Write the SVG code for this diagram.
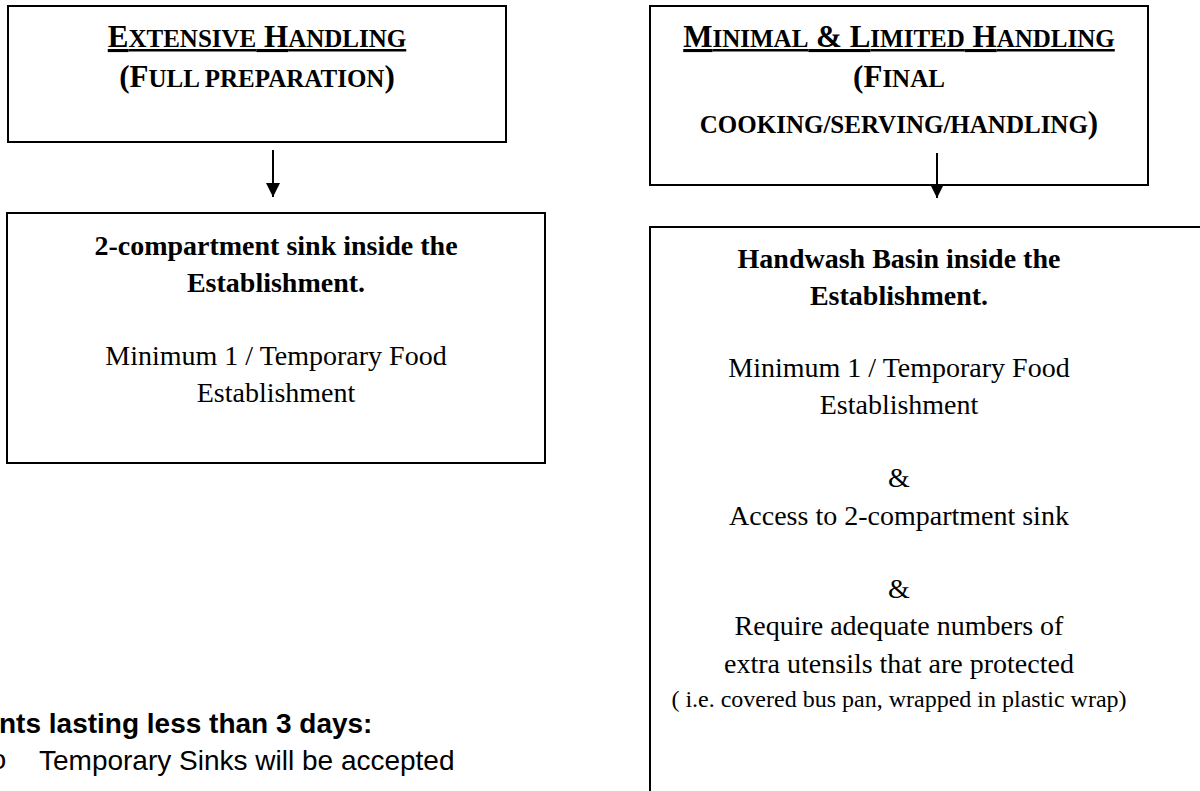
<svg xmlns="http://www.w3.org/2000/svg" width="1200" height="791" viewBox="0 0 1200 791">
<style>
.box{fill:#fff;stroke:#000;stroke-width:2}
.hd{font-family:"Liberation Serif","Times New Roman",serif;font-weight:bold;font-size:31px;text-anchor:middle;fill:#000}
.sc{font-size:25px}
.b{font-family:"Liberation Serif","Times New Roman",serif;font-weight:bold;font-size:28px;text-anchor:middle;fill:#000}
.r{font-family:"Liberation Serif","Times New Roman",serif;font-size:28px;text-anchor:middle;fill:#000}
.sm{font-size:24px}
.a{font-family:"Liberation Sans",Arial,sans-serif;font-size:28px;fill:#000}
.conn{stroke:#000;stroke-width:2;fill:none}
</style>
<defs>
<marker id="ah" viewBox="0 0 10 10" refX="10" refY="5" markerWidth="7" markerHeight="7" markerUnits="strokeWidth" orient="auto">
<path d="M0,0 L10,5 L0,10 Z" fill="#000"/>
</marker>
</defs>
<rect width="1200" height="791" fill="#fff"/>
<g id="node-extensive">
<rect class="box" x="8" y="6" width="498" height="136"/>
<text class="hd" x="257" y="47" text-decoration="underline">E<tspan class="sc">XTENSIVE</tspan> H<tspan class="sc">ANDLING</tspan></text>
<text class="hd" x="257" y="87">(F<tspan class="sc">ULL PREPARATION</tspan>)</text>
</g>
<g id="node-minimal">
<rect class="box" x="650" y="6" width="498" height="179"/>
<text class="hd" x="899" y="47" text-decoration="underline">M<tspan class="sc">INIMAL</tspan> &amp; L<tspan class="sc">IMITED</tspan> H<tspan class="sc">ANDLING</tspan></text>
<text class="hd" x="899" y="87">(F<tspan class="sc">INAL</tspan></text>
<text class="hd" x="899" y="133"><tspan class="sc">COOKING/SERVING/HANDLING</tspan>)</text>
</g>
<g id="node-sink">
<rect class="box" x="7" y="213" width="538" height="250"/>
<text class="b" x="276" y="255">2-compartment sink inside the</text>
<text class="b" x="276" y="292">Establishment.</text>
<text class="r" x="276" y="365">Minimum 1 / Temporary Food</text>
<text class="r" x="276" y="402">Establishment</text>
</g>
<g id="node-handwash">
<path class="box" d="M1210,227 H650 V800" style="fill:none"/>
<text class="b" x="899" y="268">Handwash Basin inside the</text>
<text class="b" x="899" y="305">Establishment.</text>
<text class="r" x="899" y="377">Minimum 1 / Temporary Food</text>
<text class="r" x="899" y="414">Establishment</text>
<text class="r" x="899" y="487">&amp;</text>
<text class="r" x="899" y="525">Access to 2-compartment sink</text>
<text class="r" x="899" y="598">&amp;</text>
<text class="r" x="899" y="635">Require adequate numbers of</text>
<text class="r" x="899" y="673">extra utensils that are protected</text>
<text class="r sm" x="899" y="707">( i.e. covered bus pan, wrapped in plastic wrap)</text>
</g>
<g id="note">
<text class="a" x="-1" y="733" font-weight="bold">nts lasting less than 3 days:</text>
<text x="-10" y="769" font-family="Liberation Mono,Courier New,monospace" font-size="28">o</text>
<text class="a" x="39" y="770">Temporary Sinks will be accepted</text>
</g>
<g id="connectors">
<line class="conn" x1="273" y1="150" x2="273" y2="197" marker-end="url(#ah)"/>
<line class="conn" x1="937" y1="153" x2="937" y2="198" marker-end="url(#ah)"/>
</g>
</svg>
